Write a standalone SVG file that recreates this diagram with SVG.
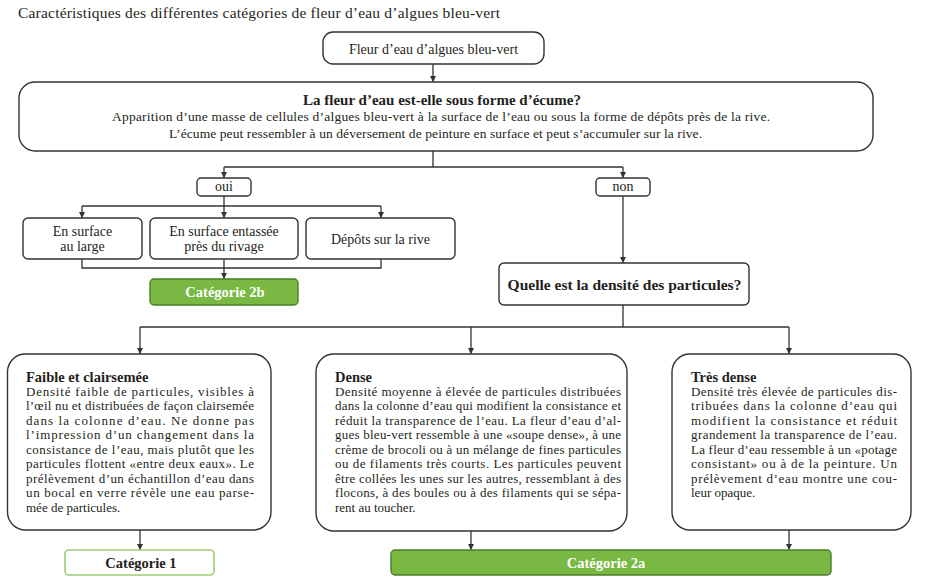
<svg xmlns="http://www.w3.org/2000/svg" width="950" height="585" viewBox="0 0 950 585">
<defs>
<marker id="arr" viewBox="0 0 6 6" refX="6" refY="3" markerWidth="6" markerHeight="6" markerUnits="userSpaceOnUse" orient="auto"><path d="M0,0 L6,3 L0,6 z" fill="#333"/></marker>
</defs>
<style>
.box{fill:#fff;stroke:#333;stroke-width:1.4}
.green{fill:#79b843;stroke:#4b7d2b;stroke-width:1.4}
.lgreen{fill:#fff;stroke:#9ccb73;stroke-width:1.6}
.t{font-family:"Liberation Serif","DejaVu Serif",serif;fill:#231f20}
.c{text-anchor:middle}
.b{font-weight:bold}
.w{fill:#fff}
.s13{font-size:13px}
.s14{font-size:14px}
.conn path{fill:none;stroke:#333;stroke-width:1.3}
</style>
<rect width="950" height="585" fill="#fff"/>
<text class="t" x="18" y="17.5" font-size="15.5" textLength="482" lengthAdjust="spacing">Caractéristiques des différentes catégories de fleur d’eau d’algues bleu-vert</text>

<g id="connectors" class="conn">
<path d="M433,64 V82" marker-end="url(#arr)"/>
<path d="M433,151 V167 M224,167 H623"/>
<path d="M224,167 V178" marker-end="url(#arr)"/>
<path d="M623,167 V178" marker-end="url(#arr)"/>
<path d="M224,196 V206 M82,206 H381"/>
<path d="M82,206 V218" marker-end="url(#arr)"/>
<path d="M224,206 V218" marker-end="url(#arr)"/>
<path d="M381,206 V218" marker-end="url(#arr)"/>
<path d="M82,259 V268 H381 V259 M224,259 V268"/>
<path d="M224,268 V279" marker-end="url(#arr)"/>
<path d="M623,196 V263" marker-end="url(#arr)"/>
<path d="M623,305 V327 M140,327 H789"/>
<path d="M140,327 V354" marker-end="url(#arr)"/>
<path d="M471,327 V354" marker-end="url(#arr)"/>
<path d="M789,327 V354" marker-end="url(#arr)"/>
<path d="M140,530 V550" marker-end="url(#arr)"/>
<path d="M471,531 V550" marker-end="url(#arr)"/>
<path d="M789,530 V550" marker-end="url(#arr)"/>
</g>

<g id="n-fleur">
<rect class="box" x="323" y="32" width="221" height="32" rx="10"/>
<text class="t c s14" x="433.5" y="53.5">Fleur d’eau d’algues bleu-vert</text>
</g>

<g id="n-ecume">
<rect class="box" x="19" y="82" width="854" height="69" rx="16"/>
<text class="t c b" x="442" y="104.5" font-size="15">La fleur d’eau est-elle sous forme d’écume?</text>
<text class="t c" x="441" y="121" font-size="13.5" textLength="658" lengthAdjust="spacing">Apparition d’une masse de cellules d’algues bleu-vert à la surface de l’eau ou sous la forme de dépôts près de la rive.</text>
<text class="t c" x="435.5" y="137.5" font-size="13.5" textLength="533" lengthAdjust="spacing">L’écume peut ressembler à un déversement de peinture en surface et peut s’accumuler sur la rive.</text>
</g>

<g id="n-oui">
<rect class="box" x="197" y="178" width="54" height="18" rx="4"/>
<text class="t c s14" x="224" y="191">oui</text>
</g>

<g id="n-non">
<rect class="box" x="596" y="178" width="54" height="18" rx="4"/>
<text class="t c s14" x="623" y="191">non</text>
</g>

<g id="n-large">
<rect class="box" x="23" y="218" width="119" height="41" rx="5"/>
<text class="t c s14" x="82.5" y="236">En surface</text>
<text class="t c s14" x="82.5" y="250.5">au large</text>
</g>

<g id="n-rivage">
<rect class="box" x="150" y="218" width="148" height="41" rx="5"/>
<text class="t c s14" x="224" y="236">En surface entassée</text>
<text class="t c s14" x="224" y="250.5">près du rivage</text>
</g>

<g id="n-rive">
<rect class="box" x="306" y="218" width="149" height="41" rx="5"/>
<text class="t c s14" x="380.5" y="244">Dépôts sur la rive</text>
</g>

<g id="n-cat2b">
<rect class="green" x="150" y="279" width="148" height="26" rx="4"/>
<text class="t c b w" x="225" y="297" font-size="14.5">Catégorie 2b</text>
</g>

<g id="n-densite">
<rect class="box" x="499" y="263" width="250" height="42" rx="5"/>
<text class="t c b" x="624.5" y="289.5" font-size="15.5">Quelle est la densité des particules?</text>
</g>

<g id="n-faible">
<rect class="box" x="7.5" y="354" width="263.5" height="176" rx="18"/>
<text class="t b" x="26" y="381.5" font-size="14.5">Faible et clairsemée</text>
<g class="t s13">
<text x="26" y="395.5" textLength="228" lengthAdjust="spacing">Densité faible de particules, visibles à</text>
<text x="26" y="410" textLength="228" lengthAdjust="spacing">l’œil nu et distribuées de façon clairsemée</text>
<text x="26" y="424.5" textLength="228" lengthAdjust="spacing">dans la colonne d’eau. Ne donne pas</text>
<text x="26" y="439" textLength="228" lengthAdjust="spacing">l’impression d’un changement dans la</text>
<text x="26" y="453.5" textLength="228" lengthAdjust="spacing">consistance de l’eau, mais plutôt que les</text>
<text x="26" y="468" textLength="228" lengthAdjust="spacing">particules flottent «entre deux eaux». Le</text>
<text x="26" y="482.5" textLength="228" lengthAdjust="spacing">prélèvement d’un échantillon d’eau dans</text>
<text x="26" y="497" textLength="228" lengthAdjust="spacing">un bocal en verre révèle une eau parse-</text>
<text x="26" y="511.5">mée de particules.</text>
</g>
</g>

<g id="n-dense">
<rect class="box" x="316" y="354" width="311" height="177" rx="18"/>
<text class="t b" x="335" y="381.5" font-size="14.5">Dense</text>
<g class="t s13">
<text x="335" y="395.5" textLength="286" lengthAdjust="spacing">Densité moyenne à élevée de particules distribuées</text>
<text x="335" y="410" textLength="286" lengthAdjust="spacing">dans la colonne d’eau qui modifient la consistance et</text>
<text x="335" y="424.5" textLength="286" lengthAdjust="spacing">réduit la transparence de l’eau. La fleur d’eau d’al-</text>
<text x="335" y="439" textLength="286" lengthAdjust="spacing">gues bleu-vert ressemble à une «soupe dense», à une</text>
<text x="335" y="453.5" textLength="286" lengthAdjust="spacing">crème de brocoli ou à un mélange de fines particules</text>
<text x="335" y="468" textLength="286" lengthAdjust="spacing">ou de filaments très courts. Les particules peuvent</text>
<text x="335" y="482.5" textLength="286" lengthAdjust="spacing">être collées les unes sur les autres, ressemblant à des</text>
<text x="335" y="497" textLength="286" lengthAdjust="spacing">flocons, à des boules ou à des filaments qui se sépa-</text>
<text x="335" y="511.5">rent au toucher.</text>
</g>
</g>

<g id="n-tresdense">
<rect class="box" x="672" y="354" width="239" height="176" rx="18"/>
<text class="t b" x="691" y="381.5" font-size="14.5">Très dense</text>
<g class="t s13">
<text x="691" y="395.5" textLength="206" lengthAdjust="spacing">Densité très élevée de particules dis-</text>
<text x="691" y="410" textLength="206" lengthAdjust="spacing">tribuées dans la colonne d’eau qui</text>
<text x="691" y="424.5" textLength="206" lengthAdjust="spacing">modifient la consistance et réduit</text>
<text x="691" y="439" textLength="206" lengthAdjust="spacing">grandement la transparence de l’eau.</text>
<text x="691" y="453.5" textLength="206" lengthAdjust="spacing">La fleur d’eau ressemble à un «potage</text>
<text x="691" y="468" textLength="206" lengthAdjust="spacing">consistant» ou à de la peinture. Un</text>
<text x="691" y="482.5" textLength="206" lengthAdjust="spacing">prélèvement d’eau montre une cou-</text>
<text x="691" y="497">leur opaque.</text>
</g>
</g>

<g id="n-cat1">
<rect class="lgreen" x="65" y="550" width="149" height="25" rx="4"/>
<text class="t c b" x="141" y="567.5" font-size="14.5">Catégorie 1</text>
</g>

<g id="n-cat2a">
<rect class="green" x="391" y="550" width="440" height="25" rx="4"/>
<text class="t c b w" x="606" y="567.5" font-size="14.5">Catégorie 2a</text>
</g>
</svg>
